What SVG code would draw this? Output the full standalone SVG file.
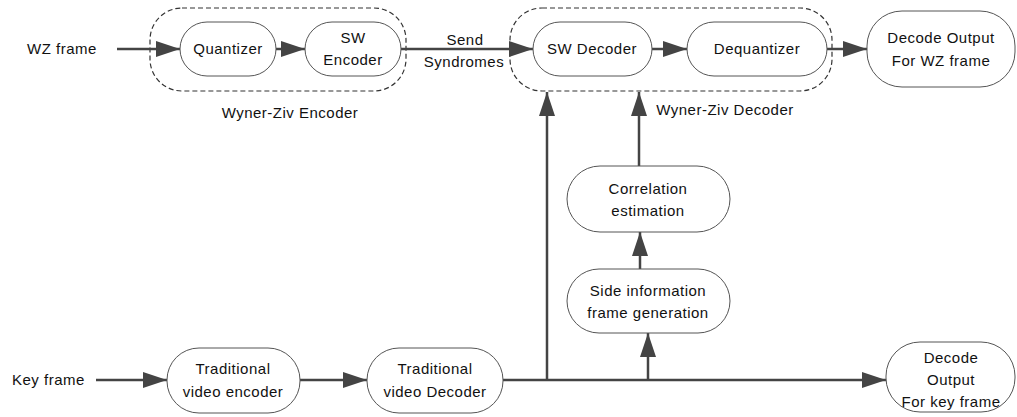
<svg xmlns="http://www.w3.org/2000/svg" width="1017" height="417" viewBox="0 0 1017 417">
<style>
text{font-family:"Liberation Sans",Arial,sans-serif;font-size:15px;fill:#111;letter-spacing:0.5px}
.c{text-anchor:middle}
.node{fill:#fff;stroke:#555;stroke-width:1}
.grp{fill:none;stroke:#333;stroke-width:1.2;stroke-dasharray:5,3}
.ln{fill:none;stroke:#444;stroke-width:2.5}
.ar{marker-end:url(#ah)}
</style>
<defs>
<marker id="ah" markerUnits="userSpaceOnUse" markerWidth="24" markerHeight="16" refX="24" refY="8" orient="auto">
<path d="M0,0 L24,8 L0,16 z" fill="#444"/>
</marker>
</defs>
<rect width="1017" height="417" fill="#fff"/>
<g id="containers">
<rect id="wz-encoder" class="grp" x="150" y="8" width="256" height="83" rx="32"/>
<rect id="wz-decoder" class="grp" x="510" y="8" width="322" height="83" rx="32"/>
<text class="c" x="290" y="118">Wyner-Ziv Encoder</text>
<text class="c" x="725" y="115">Wyner-Ziv Decoder</text>
</g>
<g id="connectors">
<line class="ln ar" x1="117" y1="49" x2="180" y2="49"/>
<line class="ln ar" x1="276" y1="49" x2="305" y2="49"/>
<line class="ln ar" x1="400" y1="49" x2="533" y2="49"/>
<line class="ln ar" x1="652" y1="49" x2="687" y2="49"/>
<line class="ln ar" x1="827" y1="49" x2="867" y2="49"/>
<line class="ln ar" x1="96" y1="380" x2="167" y2="380"/>
<line class="ln ar" x1="300" y1="380" x2="367" y2="380"/>
<line class="ln ar" x1="503" y1="380" x2="886" y2="380"/>
<line class="ln ar" x1="547" y1="381" x2="547" y2="92"/>
<line class="ln ar" x1="639" y1="166" x2="639" y2="92"/>
<line class="ln ar" x1="640" y1="269" x2="640" y2="232"/>
<line class="ln ar" x1="648" y1="381" x2="648" y2="333"/>
<text class="c" x="465" y="45">Send</text>
<text class="c" x="464" y="67">Syndromes</text>
</g>
<g id="wz-frame"><text x="27" y="54">WZ frame</text></g>
<g id="key-frame"><text x="12" y="385">Key frame</text></g>
<g id="quantizer">
<rect class="node" x="180" y="22" width="96" height="54" rx="27"/>
<text class="c" x="228" y="54">Quantizer</text>
</g>
<g id="sw-encoder">
<rect class="node" x="305" y="22" width="96" height="54" rx="27"/>
<text class="c" x="353" y="43">SW</text>
<text class="c" x="353" y="65">Encoder</text>
</g>
<g id="sw-decoder">
<rect class="node" x="533" y="22" width="119" height="54" rx="27"/>
<text class="c" x="592" y="54">SW Decoder</text>
</g>
<g id="dequantizer">
<rect class="node" x="687" y="22" width="140" height="54" rx="27"/>
<text class="c" x="757" y="54">Dequantizer</text>
</g>
<g id="decode-wz">
<rect class="node" x="867" y="11" width="148" height="76" rx="35"/>
<text class="c" x="941" y="43">Decode Output</text>
<text class="c" x="941" y="66">For WZ frame</text>
</g>
<g id="correlation">
<rect class="node" x="567" y="166" width="163" height="66" rx="33"/>
<text class="c" x="648" y="194">Correlation</text>
<text class="c" x="648" y="216">estimation</text>
</g>
<g id="side-info">
<rect class="node" x="567" y="269" width="163" height="64" rx="32"/>
<text class="c" x="648" y="296">Side information</text>
<text class="c" x="648" y="318">frame generation</text>
</g>
<g id="trad-encoder">
<rect class="node" x="167" y="348" width="133" height="65" rx="32"/>
<text class="c" x="233" y="374">Traditional</text>
<text class="c" x="233" y="397">video encoder</text>
</g>
<g id="trad-decoder">
<rect class="node" x="367" y="348" width="136" height="65" rx="32"/>
<text class="c" x="435" y="374">Traditional</text>
<text class="c" x="435" y="397">video Decoder</text>
</g>
<g id="decode-key">
<rect class="node" x="886" y="342" width="129" height="70" rx="34"/>
<text class="c" x="951" y="363">Decode</text>
<text class="c" x="951" y="385">Output</text>
<text class="c" x="951" y="407">For key frame</text>
</g>
</svg>
